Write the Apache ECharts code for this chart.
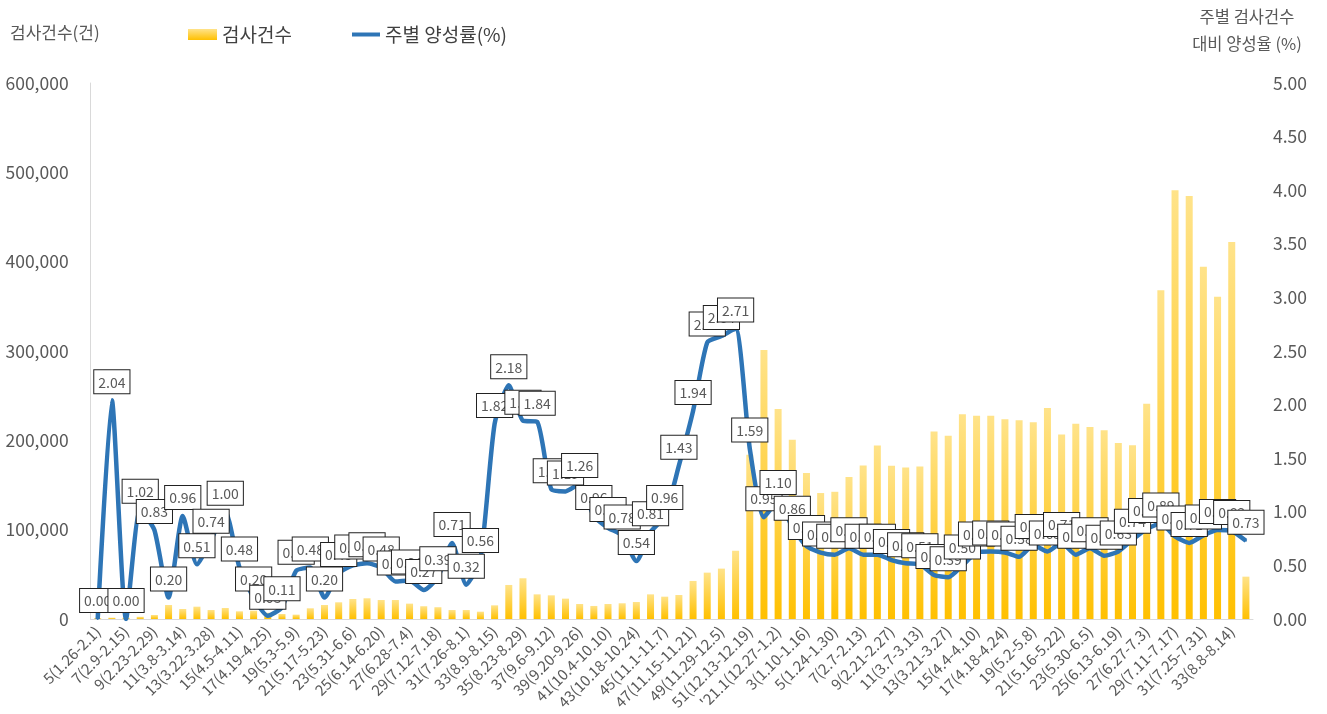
<!DOCTYPE html>
<html>
<head>
<meta charset="utf-8">
<script src="https://cdn.jsdelivr.net/npm/echarts@6/dist/echarts.min.js"></script>
<style>
  html, body { margin: 0; padding: 0; background: #fff; }
  #main { width: 1327px; height: 714px; }
</style>
</head>
<body>
<div id="main"></div>
<script>
// 주차(기간) - 2020년 5주 ~ 2021년 34주
var weeks = [
  '5(1.26-2.1)', '6(2.2-2.8)', '7(2.9-2.15)', '8(2.16-2.22)', '9(2.23-2.29)', '10(3.1-3.7)',
  '11(3.8-3.14)', '12(3.15-3.21)', '13(3.22-3.28)', '14(3.29-4.4)', '15(4.5-4.11)', '16(4.12-4.18)',
  '17(4.19-4.25)', '18(4.26-5.2)', '19(5.3-5.9)', '20(5.10-5.16)', '21(5.17-5.23)', '22(5.24-5.30)',
  '23(5.31-6.6)', '24(6.7-6.13)', '25(6.14-6.20)', '26(6.21-6.27)', '27(6.28-7.4)', '28(7.5-7.11)',
  '29(7.12-7.18)', '30(7.19-7.25)', '31(7.26-8.1)', '32(8.2-8.8)', '33(8.9-8.15)', '34(8.16-8.22)',
  '35(8.23-8.29)', '36(8.30-9.5)', '37(9.6-9.12)', '38(9.13-9.19)', '39(9.20-9.26)', '40(9.27-10.3)',
  '41(10.4-10.10)', '42(10.11-10.17)', '43(10.18-10.24)', '44(10.25-10.31)', '45(11.1-11.7)', '46(11.8-11.14)',
  '47(11.15-11.21)', '48(11.22-11.28)', '49(11.29-12.5)', '50(12.6-12.12)', '51(12.13-12.19)', '52(12.20-12.26)',
  "'21.1(12.27-1.2)", '2(1.3-1.9)', '3(1.10-1.16)', '4(1.17-1.23)', '5(1.24-1.30)', '6(1.31-2.6)',
  '7(2.7-2.13)', '8(2.14-2.20)', '9(2.21-2.27)', '10(2.28-3.6)', '11(3.7-3.13)', '12(3.14-3.20)',
  '13(3.21-3.27)', '14(3.28-4.3)', '15(4.4-4.10)', '16(4.11-4.17)', '17(4.18-4.24)', '18(4.25-5.1)',
  '19(5.2-5.8)', '20(5.9-5.15)', '21(5.16-5.22)', '22(5.23-5.29)', '23(5.30-6.5)', '24(6.6-6.12)',
  '25(6.13-6.19)', '26(6.20-6.26)', '27(6.27-7.3)', '28(7.4-7.10)', '29(7.11-7.17)', '30(7.18-7.24)',
  '31(7.25-7.31)', '32(8.1-8.7)', '33(8.8-8.14)', '34(8.15-8.21)'
];

// 검사건수(건)
var tests = [
  1000, 1500, 1500, 2500, 4500, 15700,
  11200, 13800, 10100, 12300, 8600, 9300,
  7000, 5600, 4900, 12000, 15700, 18700,
  22400, 23200, 21300, 21300, 17200, 14300,
  13200, 10100, 10100, 8200, 15300, 38100,
  45600, 27600, 26500, 22800, 16800, 14600,
  16800, 17600, 19000, 27600, 25000, 26900,
  42600, 51900, 56400, 76400, 184000, 301000,
  235000, 200700, 163400, 141000, 142400, 158900,
  171900, 194300, 171600, 169700, 170800, 210000,
  205200, 229100, 227600, 227600, 223600, 222400,
  220300, 236300, 206400, 218700, 215000, 211200,
  197000, 194400, 241000, 368000, 480000, 473600,
  394400, 360800, 422000, 47400
];

// 주별 양성률(%)
var positive = [
  0.00, 2.04, 0.00, 1.02, 0.83, 0.20,
  0.96, 0.51, 0.74, 1.00, 0.48, 0.20,
  0.03, 0.11, 0.45, 0.48, 0.20, 0.43,
  0.50, 0.52, 0.48, 0.35, 0.36, 0.27,
  0.39, 0.71, 0.32, 0.56, 1.82, 2.18,
  1.85, 1.84, 1.21, 1.19, 1.26, 0.96,
  0.85, 0.78, 0.54, 0.81, 0.96, 1.43,
  1.94, 2.58, 2.64, 2.71, 1.59, 0.95,
  1.10, 0.86, 0.68, 0.62, 0.60, 0.66,
  0.60, 0.60, 0.55, 0.52, 0.51, 0.41,
  0.39, 0.50, 0.62, 0.63, 0.62, 0.58,
  0.69, 0.63, 0.71, 0.60, 0.66, 0.59,
  0.63, 0.74, 0.84, 0.89, 0.77, 0.71,
  0.78, 0.83, 0.82, 0.73
];

var font = '"Noto Sans CJK KR", "Noto Sans", sans-serif';
var grey = '#595959';

var myChart = echarts.init(document.getElementById('main'));

myChart.setOption({
  animation: false,
  textStyle: { fontFamily: font },
  title: [
    {
      text: '검사건수(건)',
      left: 10, top: 24, padding: 0,
      textStyle: { fontSize: 17, fontWeight: 'normal', color: grey, fontFamily: font }
    },
    {
      text: '주별 검사건수\n대비 양성율 (%)',
      left: 1247, top: 3, padding: 0, textAlign: 'center',
      textStyle: { fontSize: 16.5, fontWeight: 'normal', color: grey, lineHeight: 27, fontFamily: font }
    }
  ],
  legend: [
    {
      data: [{ name: '검사건수', icon: 'rect' }],
      left: 188, top: 25, padding: 0,
      itemWidth: 29, itemHeight: 11, itemGap: 5,
      selectedMode: false,
      textStyle: { fontSize: 19, color: '#404040', fontFamily: font }
    },
    {
      data: [{ name: '주별 양성률(%)', icon: 'rect' }],
      left: 352, top: 25, padding: 0,
      itemWidth: 28, itemHeight: 4, itemGap: 3,
      selectedMode: false,
      textStyle: { fontSize: 19, color: '#404040', fontFamily: font }
    }
  ],
  grid: { left: 90.6, right: 74, top: 83, bottom: 95, containLabel: false },
  xAxis: {
    type: 'category',
    data: weeks,
    boundaryGap: true,
    axisLine: { show: true, lineStyle: { color: '#D9D9D9' } },
    axisTick: { show: false },
    axisLabel: {
      interval: 1, rotate: 45, margin: 10,
      fontSize: 15, color: grey, fontFamily: font
    }
  },
  yAxis: [
    {
      type: 'value', min: 0, max: 600000, interval: 100000,
      axisLine: { show: true, lineStyle: { color: '#D9D9D9' } },
      axisTick: { show: false },
      splitLine: { show: false },
      axisLabel: {
        margin: 22, fontSize: 17.5, color: grey, fontFamily: font,
        formatter: function (v) { return v.toLocaleString('en-US'); }
      }
    },
    {
      type: 'value', min: 0, max: 5, interval: 0.5, position: 'right',
      axisLine: { show: false },
      axisTick: { show: false },
      splitLine: { show: false },
      axisLabel: {
        margin: 20, fontSize: 17.5, color: grey, fontFamily: font,
        formatter: function (v) { return v.toFixed(2); }
      }
    }
  ],
  series: [
    {
      name: '검사건수',
      type: 'bar',
      data: tests,
      barWidth: 7,
      itemStyle: {
        color: new echarts.graphic.LinearGradient(0, 0, 0, 1, [
          { offset: 0, color: '#FFE38A' },
          { offset: 1, color: '#FFC000' }
        ])
      }
    },
    {
      name: '주별 양성률(%)',
      type: 'line',
      yAxisIndex: 1,
      data: positive,
      smooth: 0.2,
      symbol: 'circle',
      symbolSize: 2,
      itemStyle: { color: '#2E75B6' },
      lineStyle: { color: '#2E75B6', width: 4.5 },
      label: {
        show: true,
        position: 'top',
        distance: 6,
        formatter: function (p) { return p.value.toFixed(2); },
        fontSize: 14,
        color: grey,
        fontFamily: font,
        backgroundColor: '#ffffff',
        borderColor: '#222222',
        borderWidth: 1,
        padding: [5, 4, 4, 4]
      }
    }
  ]
});
</script>
</body>
</html>
